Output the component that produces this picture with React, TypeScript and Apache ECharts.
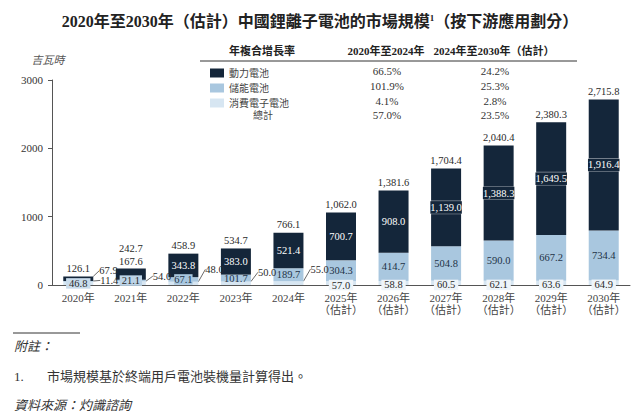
import React, { useEffect, useRef } from 'react';
import * as echarts from 'echarts';

const categories = ['2020年', '2021年', '2022年', '2023年', '2024年', '2025年\n（估計）', '2026年\n（估計）', '2027年\n（估計）', '2028年\n（估計）', '2029年\n（估計）', '2030年\n（估計）'];
const seriesNames = ['動力電池', '儲能電池', '消費電子電池'];
const powerValues = [67.9, 167.6, 343.8, 383.0, 521.4, 700.7, 908.0, 1139.0, 1388.3, 1649.5, 1916.4];
const storageValues = [11.4, 21.1, 67.1, 101.7, 189.7, 304.3, 414.7, 504.8, 590.0, 667.2, 734.4];
const consumerValues = [46.8, 54.0, 48.0, 50.0, 55.0, 57.0, 58.8, 60.5, 62.1, 63.6, 64.9];
const totalValues = [126.1, 242.7, 458.9, 534.7, 766.1, 1062.0, 1381.6, 1704.4, 2040.4, 2380.3, 2715.8];
const cagrHeaders = ['年複合增長率', '2020年至2024年', '2024年至2030年（估計）'];
const cagr2020to2024 = ['66.5%', '101.9%', '4.1%', '57.0%'];
const cagr2024to2030 = ['24.2%', '25.3%', '2.8%', '23.5%'];
const totalRowLabel = '總計';
const yMin = 0;
const yMax = 3000;
const yInterval = 1000;
const titleMain = '2020年至2030年（估計）中國鋰離子電池的市場規模';
const titleSup = '1';
const titleTail = '（按下游應用劃分）';
const unitLabel = '吉瓦時';
const noteHead = '附註：';
const noteNum = '1.';
const noteText = '市場規模基於終端用戶電池裝機量計算得出。';
const sourceText = '資料來源：灼識諮詢';

const FONT = "'Liberation Serif', 'Noto Sans CJK TC', serif";
const DARK = '#14263a';
const MID = '#a9c7df';
const LIGHT = '#d7e6f2';
const TXT = '#2a2a2a';
const LS = 10.5;

const fmt = (v: number) => v.toLocaleString('en-US', { minimumFractionDigits: 1, maximumFractionDigits: 1 });

export default function App() {
  const ref = useRef<HTMLDivElement>(null);
  useEffect(() => {
    if (!ref.current) return;
    const chart = echarts.init(ref.current, undefined, { renderer: 'svg' });

    const baseLabel = { show: true, fontSize: LS, fontFamily: FONT, formatter: (p: any) => fmt(p.value) };
    const lineStyle = { color: '#444', width: 0.8 };

    const powerData = powerValues.map((v, i) => {
      let label: any;
      if (i === 0) label = { position: 'right', distance: 6, color: TXT };
      else if (i === 1) label = { position: 'top', distance: 2, color: TXT };
      else label = { position: 'inside', color: '#ffffff', ...(v >= 1000 ? { borderColor: 'rgba(255,255,255,0.55)', borderWidth: 0.6, padding: [1, 0], backgroundColor: DARK } : {}) };
      return { value: v, label, labelLine: i === 0 ? { show: true } : undefined };
    });
    const storageData = storageValues.map((v, i) => {
      let label: any;
      if (i === 0) label = { position: 'right', distance: 6, color: TXT };
      else if (i === 1) label = { position: 'inside', color: TXT, backgroundColor: '#bcd4e8', padding: [0, 2] };
      else label = { position: 'inside', color: '#1e3246', backgroundColor: i === 2 ? MID : 'transparent' };
      return { value: v, label, labelLine: i === 0 ? { show: true } : undefined };
    });
    const consumerData = consumerValues.map((v, i) => {
      let label: any;
      if (i === 0) label = { position: 'inside', color: TXT, backgroundColor: '#c9dcec', padding: [0, 3] };
      else if (i <= 4) label = { position: 'right', distance: 4, color: TXT };
      else label = { position: 'inside', color: TXT, backgroundColor: '#eef4f9', padding: [0, 3] };
      return { value: v, label, labelLine: i >= 1 && i <= 4 ? { show: true } : undefined };
    });

    const cagrRowsY = [71, 86, 100.5, 115];

    const graphics: any[] = [
      { type: 'text', x: 48, y: 60, style: { text: unitLabel, font: `italic 11px ${FONT}`, fill: '#555', align: 'center', verticalAlign: 'middle' } },
      { type: 'text', x: 262, y: 51, style: { text: cagrHeaders[0], font: `bold 11px ${FONT}`, fill: '#222', align: 'center', verticalAlign: 'middle' } },
      { type: 'text', x: 386, y: 51, style: { text: cagrHeaders[1], font: `bold 11px ${FONT}`, fill: '#222', align: 'center', verticalAlign: 'middle' } },
      { type: 'text', x: 494, y: 51, style: { text: cagrHeaders[2], font: `bold 11px ${FONT}`, fill: '#222', align: 'center', verticalAlign: 'middle' } },
      { type: 'line', shape: { x1: 200, y1: 61, x2: 577, y2: 61 }, style: { stroke: '#333', lineWidth: 1 } },
      { type: 'text', x: 263, y: cagrRowsY[3], style: { text: totalRowLabel, font: `10px ${FONT}`, fill: '#444', align: 'center', verticalAlign: 'middle' } },
      ...cagr2020to2024.map((t, i) => ({ type: 'text', x: 387, y: cagrRowsY[i], style: { text: t, font: `11px ${FONT}`, fill: '#333', align: 'center', verticalAlign: 'middle' } })),
      ...cagr2024to2030.map((t, i) => ({ type: 'text', x: 495, y: cagrRowsY[i], style: { text: t, font: `11px ${FONT}`, fill: '#333', align: 'center', verticalAlign: 'middle' } })),
      { type: 'line', shape: { x1: 13, y1: 333, x2: 80, y2: 333 }, style: { stroke: '#333', lineWidth: 1 } },
      { type: 'text', x: 14, y: 346, style: { text: noteHead, font: `italic 13px ${FONT}`, fill: '#333', verticalAlign: 'middle' } },
      { type: 'text', x: 14, y: 376, style: { text: noteNum, font: `13px ${FONT}`, fill: '#333', verticalAlign: 'middle' } },
      { type: 'text', x: 47, y: 376, style: { text: noteText, font: `13px ${FONT}`, fill: '#333', verticalAlign: 'middle' } },
      { type: 'text', x: 14, y: 405, style: { text: sourceText, font: `italic 13px ${FONT}`, fill: '#333', verticalAlign: 'middle' } },
    ];

    chart.setOption({
      animation: false,
      title: {
        text: `${titleMain}{sup|${titleSup}}${titleTail}`,
        left: 'center',
        top: 8,
        textStyle: {
          fontFamily: FONT, fontSize: 16, fontWeight: 'bold', color: '#222',
          rich: { sup: { fontSize: 9, fontWeight: 'bold', fontFamily: FONT, verticalAlign: 'top', color: '#222', padding: [0, 0, 6, 0] } },
        },
      },
      legend: {
        data: seriesNames,
        orient: 'vertical',
        left: 205,
        top: 63,
        itemWidth: 14,
        itemHeight: 9,
        itemGap: 5,
        icon: 'rect',
        selectedMode: false,
        textStyle: { fontFamily: FONT, fontSize: 10, color: '#444', lineHeight: 10 },
      },
      grid: { left: 52, right: 10, top: 80, bottom: 133, containLabel: false },
      xAxis: {
        type: 'category',
        data: categories,
        axisLine: { lineStyle: { color: '#555', width: 1 } },
        axisTick: { show: false },
        axisLabel: { interval: 0, fontFamily: FONT, fontSize: 11, color: '#444', margin: 7, lineHeight: 12 },
      },
      yAxis: {
        type: 'value',
        min: yMin,
        max: yMax,
        interval: yInterval,
        splitLine: { show: false },
        axisLine: { show: true, lineStyle: { color: '#555', width: 1 } },
        axisTick: { show: true, length: 4, lineStyle: { color: '#555' } },
        axisLabel: { fontFamily: FONT, fontSize: 11, color: '#333', margin: 9, formatter: (v: number) => String(v) },
      },
      series: [
        {
          name: seriesNames[2], type: 'bar', stack: 'a', barWidth: 30, itemStyle: { color: LIGHT },
          data: consumerData, label: baseLabel,
          labelLayout: (p: any) => {
            const i = p.dataIndex;
            if (i === 1) return { dx: 3, dy: -7 };
            if (i === 2) return { dx: 3, dy: -14 };
            if (i === 3) return { dx: 3, dy: -11 };
            if (i === 4) return { dx: 3, dy: -14 };
            if (i >= 5) return { dy: 2 };
            return {};
          },
          labelLine: { show: false, lineStyle },
          z: 3,
        },
        {
          name: seriesNames[1], type: 'bar', stack: 'a', barWidth: 30, itemStyle: { color: MID },
          data: storageData, label: baseLabel,
          labelLayout: (p: any) => (p.dataIndex === 0 ? { dy: -1, dx: 1 } : {}),
          labelLine: { show: false, lineStyle },
          z: 3,
        },
        {
          name: seriesNames[0], type: 'bar', stack: 'a', barWidth: 30, itemStyle: { color: DARK },
          data: powerData, label: baseLabel,
          labelLayout: (p: any) => (p.dataIndex === 0 ? { dy: -8 } : {}),
          labelLine: { show: false, lineStyle },
          z: 3,
        },
        {
          name: 'total', type: 'bar', barWidth: 30, barGap: '-100%', itemStyle: { color: 'rgba(0,0,0,0)' },
          data: totalValues,
          label: { show: true, position: 'top', distance: 3, fontSize: LS, fontFamily: FONT, color: TXT, formatter: (p: any) => fmt(p.value) },
          labelLayout: (p: any) => (p.dataIndex === 1 ? { dy: -12 } : {}),
          z: 1,
          silent: true,
        },
      ],
      graphic: graphics,
    });
    return () => chart.dispose();
  }, []);
  return <div ref={ref} style={{ position: 'absolute', left: 0, top: 0, width: 640, height: 418 }} />;
}
